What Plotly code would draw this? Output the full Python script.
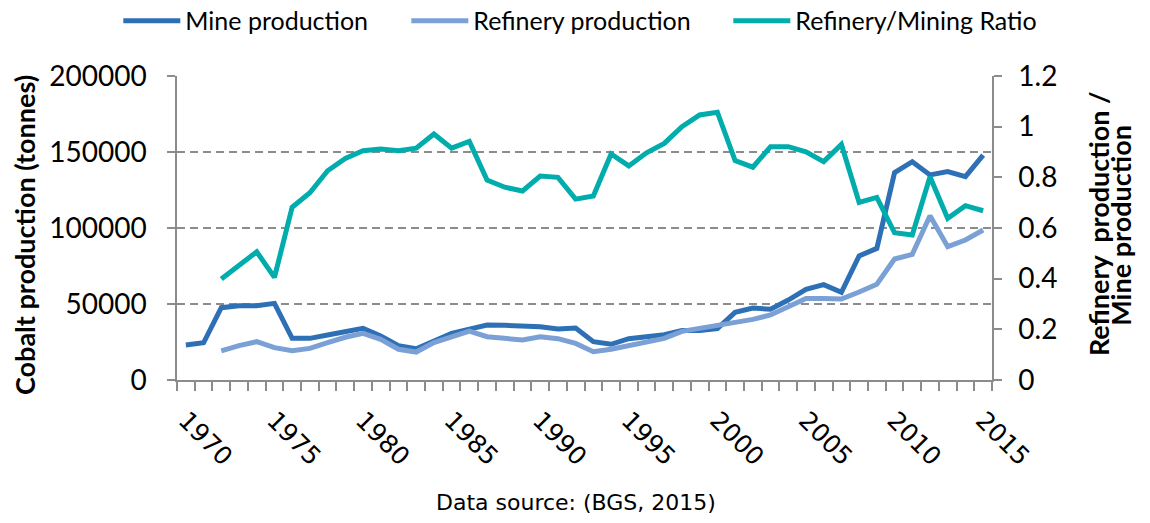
import plotly.graph_objects as go

years = list(range(1970, 2016))

mine_production = [
    23000, 24500, 47600, 48900, 48900, 50400, 27400, 27400, 29600, 32200,
    34000, 29000, 22600, 20600, 25900, 30700, 33500, 36200, 36000, 35300,
    35100, 33500, 34200, 25200, 23500, 27200, 28900, 29800, 32500, 32500,
    33800, 44500, 47400, 46500, 52600, 59600, 62700, 57700, 81600, 86600,
    136400, 143600, 134900, 137100, 133800, 148000,
]

refinery_production = [
    None, None, 19100, 22600, 25200, 21300, 19300, 20800, 24600, 28100,
    30700, 26800, 20200, 18400, 24600, 28500, 32200, 28500, 27400, 26300,
    28500, 27200, 24100, 18600, 20200, 22600, 25200, 27400, 32000, 34000,
    35700, 37700, 39900, 42800, 48200, 53700, 53700, 53300, 57900, 63000,
    79600, 82700, 108100, 87700, 92100, 98700,
]

ratio = [
    None, None, 0.399, 0.453, 0.506, 0.405, 0.682, 0.739, 0.826, 0.875,
    0.905, 0.912, 0.905, 0.915, 0.971, 0.915, 0.942, 0.789, 0.761, 0.746,
    0.805, 0.800, 0.714, 0.726, 0.892, 0.845, 0.897, 0.934, 1.000, 1.046,
    1.057, 0.866, 0.840, 0.921, 0.921, 0.901, 0.862, 0.930, 0.701, 0.721,
    0.581, 0.572, 0.802, 0.638, 0.688, 0.668,
]

left_ticks = [0, 50000, 100000, 150000, 200000]
right_ticks = [0, 0.2, 0.4, 0.6, 0.8, 1.0, 1.2]
x_ticks = list(range(1970, 2016, 5))

C_MINE = "#2E70B6"
C_REF = "#7AA0D6"
C_RATIO = "#00ACAC"
AXIS = "#8C8C8C"

fig = go.Figure()
fig.add_trace(go.Scatter(x=years, y=mine_production, name="Mine production",
                         mode="lines", line=dict(color=C_MINE, width=5),
                         legendwidth=216))
fig.add_trace(go.Scatter(x=years, y=refinery_production, name="Refinery production",
                         mode="lines", line=dict(color=C_REF, width=5),
                         legendwidth=250))
fig.add_trace(go.Scatter(x=years, y=ratio, name="Refinery/Mining Ratio", yaxis="y2",
                         mode="lines", line=dict(color=C_RATIO, width=5)))

# page body has an 8px margin, so the figure is 8px smaller and offset
fig.update_layout(
    width=1142, height=515,
    margin=dict(l=169, r=158, t=68, b=143, autoexpand=False),
    paper_bgcolor="white", plot_bgcolor="white",
    showlegend=True,
    legend=dict(orientation="h", x=-0.072, xanchor="left", y=1.181, yanchor="middle",
                font=dict(family="Lato", size=25, color="#000"),
                itemwidth=57, traceorder="normal"),
    xaxis=dict(
        range=[1969.5, 2015.5], tickmode="array", tickvals=x_ticks,
        ticks="", tickangle=45, showgrid=False, zeroline=False,
        showline=True, linecolor=AXIS, linewidth=1.5,
        tickfont=dict(family="DejaVu Sans", size=25, color="#000"),
        ticklabelstandoff=14,
        minor=dict(tick0=1969.5, dtick=1, ticks="outside", ticklen=9,
                   tickcolor=AXIS, tickwidth=1.5, showgrid=False),
    ),
    yaxis=dict(
        range=[0, 200000], tickmode="array", tickvals=left_ticks, tickformat="d",
        ticks="outside", ticklen=8, tickcolor=AXIS, tickwidth=1.5,
        showline=True, linecolor=AXIS, linewidth=1.5, zeroline=False,
        showgrid=True, gridcolor=AXIS, gridwidth=1.5, griddash="8px,5px",
        tickfont=dict(family="Lato", size=28, color="#000"),
        ticklabelstandoff=15,
    ),
    yaxis2=dict(
        range=[0, 1.2], tickmode="array", tickvals=right_ticks,
        overlaying="y", side="right", showgrid=False, zeroline=False,
        ticks="outside", ticklen=8, tickcolor=AXIS, tickwidth=1.5,
        showline=True, linecolor=AXIS, linewidth=1.5,
        tickfont=dict(family="Lato", size=28, color="#000"),
        ticklabelstandoff=11,
    ),
    yaxis3=dict(
        range=[0, 200000], tickmode="array", tickvals=left_ticks,
        overlaying="y", side="left", anchor="x", showgrid=False, zeroline=False,
        showline=False, showticklabels=False,
        ticks="inside", ticklen=7, tickcolor=AXIS, tickwidth=1.5,
    ),
    yaxis4=dict(
        range=[0, 1.2], tickmode="array", tickvals=right_ticks,
        overlaying="y", side="right", anchor="x", showgrid=False, zeroline=False,
        showline=False, showticklabels=False,
        ticks="inside", ticklen=7, tickcolor=AXIS, tickwidth=1.5,
    ),
    annotations=[
        dict(text="<b>Cobalt production (tonnes)</b>", textangle=-90,
             xref="paper", yref="paper", x=-0.1865, y=0.477,
             xanchor="center", yanchor="middle", showarrow=False,
             font=dict(family="Lato", size=27, color="#000")),
        dict(text="<b>Refinery\u00a0 production /</b>", textangle=-90,
             xref="paper", yref="paper", x=1.130, y=0.516,
             xanchor="center", yanchor="middle", showarrow=False,
             font=dict(family="Lato", size=27, color="#000")),
        dict(text="<b>Mine production</b>", textangle=-90,
             xref="paper", yref="paper", x=1.158, y=0.51,
             xanchor="center", yanchor="middle", showarrow=False,
             font=dict(family="Lato", size=27, color="#000")),
        dict(text="Data source: (BGS, 2015)",
             xref="paper", yref="paper", x=0.4896, y=-0.4046,
             xanchor="center", yanchor="middle", showarrow=False,
             font=dict(family="DejaVu Sans", size=22, color="#000")),
    ],
)

fig.write_html("out.html")
